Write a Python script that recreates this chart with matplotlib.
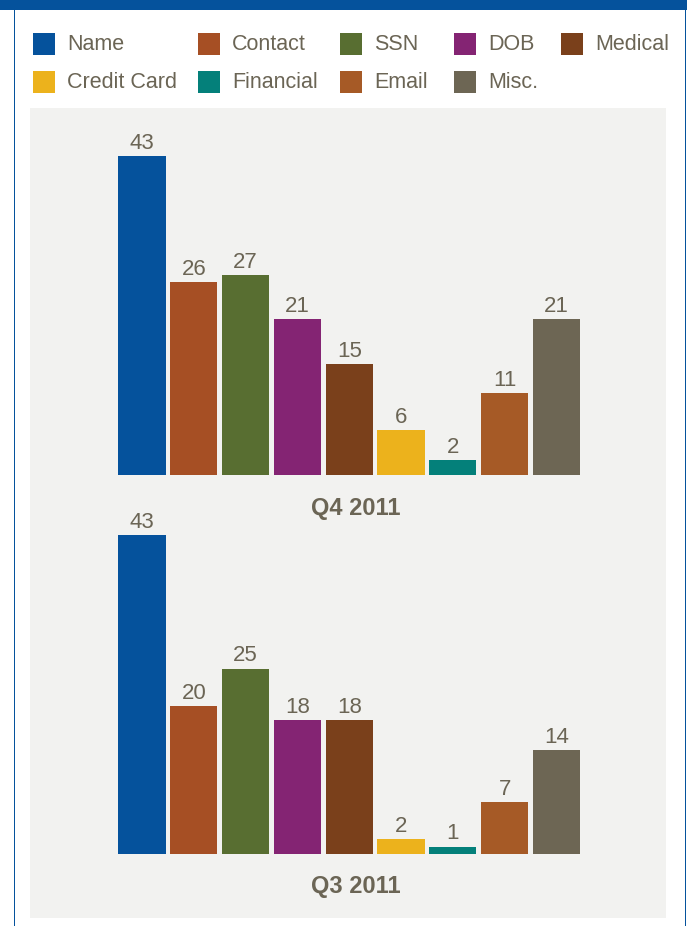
import matplotlib.pyplot as plt
from matplotlib.patches import Rectangle

categories = ['Name', 'Contact', 'SSN', 'DOB', 'Medical',
              'Credit Card', 'Financial', 'Email', 'Misc.']
colors = ['#05529c', '#a64f24', '#586e31', '#842473', '#7a401b',
          '#ecb21c', '#04807a', '#a65a26', '#6d6654']
q4_values = [43, 26, 27, 21, 15, 6, 2, 11, 21]
q3_values = [43, 20, 25, 18, 18, 2, 1, 7, 14]
periods = ['Q4 2011', 'Q3 2011']

TXT = '#6b6555'
BLUE = '#05529c'
W, H = 687, 926
plt.rcParams['font.family'] = ['Liberation Sans Narrow', 'Liberation Sans', 'DejaVu Sans']

fig = plt.figure(figsize=(W / 100, H / 100), dpi=100)
fig.patch.set_facecolor('white')


def px(x0, y0, x1, y1):
    # pixel box (top-left origin) -> figure fraction rect
    return [x0 / W, 1 - y1 / H, (x1 - x0) / W, (y1 - y0) / H]


# frame
fig.patches.append(Rectangle((0, 1 - 10 / H), 1, 10 / H, transform=fig.transFigure,
                             facecolor=BLUE, edgecolor='none'))
fig.patches.append(Rectangle((13.5 / W, 0), 1.2 / W, 1, transform=fig.transFigure,
                             facecolor=BLUE, edgecolor='none'))
fig.patches.append(Rectangle((684.5 / W, 0), 1.2 / W, 1, transform=fig.transFigure,
                             facecolor=BLUE, edgecolor='none'))

# gray panel
bg = fig.add_axes(px(30, 108, 666, 918))
bg.set_facecolor('#f2f2f0')
bg.set_xticks([]); bg.set_yticks([])
for s in bg.spines.values():
    s.set_visible(False)

# legend
col_x = [33, 198, 340, 454, 561]
row_y = [33, 71]
for i, (cat, c) in enumerate(zip(categories, colors)):
    r, k = divmod(i, 5)
    x, y = col_x[k], row_y[r]
    fig.patches.append(Rectangle((x / W, 1 - (y + 22) / H), 22 / W, 22 / H,
                                 transform=fig.transFigure, facecolor=c, edgecolor='none'))
    fig.text((x + 34) / W, 1 - (y + 12) / H, cat, fontsize=15.5, color=TXT,
             ha='left', va='center')

pitch = 51.8
first_c = 142
xl = (-(first_c - 30) / pitch, 8 + (666 - (first_c + 8 * pitch)) / pitch)
ppu = 319 / 43

for vals, base, title in [(q4_values, 475, periods[0]), (q3_values, 854, periods[1])]:
    top = base - 345
    ax = fig.add_axes(px(30, top, 666, base))
    ax.patch.set_alpha(0)
    ax.set_xlim(*xl)
    ax.set_ylim(0, 345 / ppu)
    ax.bar(range(len(vals)), vals, width=0.91, color=colors)
    for i, v in enumerate(vals):
        ax.annotate(str(v), (i, v), xytext=(0, 1.5), textcoords='offset points',
                    ha='center', va='bottom', fontsize=16, color=TXT)
    ax.axis('off')
    fig.text(356 / W, 1 - (base + 33) / H, title, fontsize=17, fontweight='bold',
             color=TXT, ha='center', va='center')

fig.savefig('out.png', dpi=100)
